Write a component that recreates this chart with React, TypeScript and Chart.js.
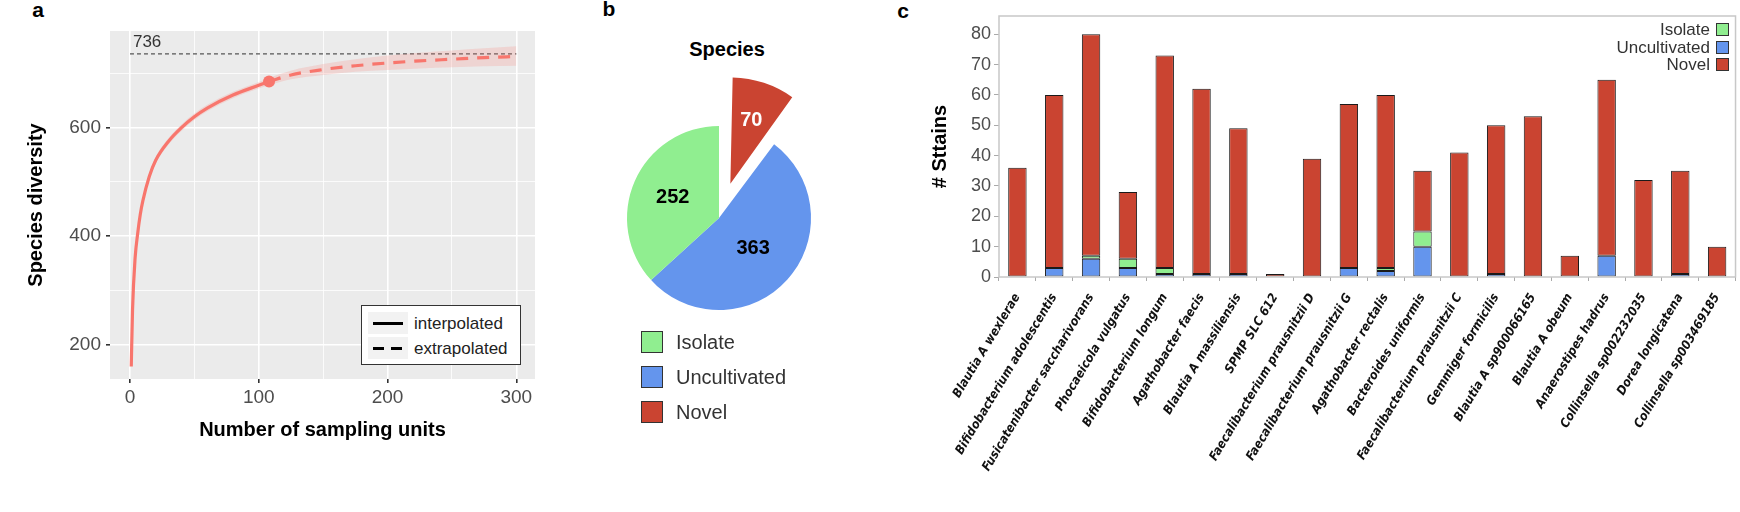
import React, { useEffect, useRef } from "react";
import { Chart, registerables } from "chart.js";
Chart.register(...registerables);

const FONT = "'Liberation Sans', Arial, Helvetica, sans-serif";
const COND = "'DejaVu Sans Condensed', 'Liberation Sans Narrow', 'DejaVu Sans', sans-serif";

// ---------- Panel a: rarefaction curve ----------
const interpX = [1, 2, 4, 6, 8, 10, 15, 20, 30, 40, 50, 60, 80, 100, 108];
const interpY = [160, 265, 360, 405, 440, 465, 510, 540, 575, 600, 620, 636, 660, 678, 685];
const extrapX = [108, 125, 150, 175, 200, 225, 250, 275, 300];
const extrapY = [685, 697, 707, 714, 719, 723, 726, 729, 731];
const ribbonX = [1, 2, 4, 6, 8, 10, 15, 20, 30, 40, 50, 60, 80, 100, 108, 125, 150, 175, 200, 225, 250, 275, 300];
const ribbonHigh = [165, 271, 366, 411, 446, 471, 516, 546, 581, 606, 626, 642, 666, 684, 692, 705, 717, 726, 733, 738, 742, 746, 750];
const ribbonLow = [155, 259, 354, 399, 434, 459, 504, 534, 569, 594, 614, 630, 654, 672, 678, 689, 697, 703, 706, 709, 711, 713, 714];
const sampleX = [108];
const sampleY = [685];
const asymptoteX = [0, 300];
const asymptoteY = [736, 736];
const xTicksA = [0, 50, 100, 150, 200, 250, 300];
const yTicksA = [200, 300, 400, 500, 600, 700];

// ---------- Panel b: pie ----------
const pieLabels = ["Novel", "Uncultivated", "Isolate"];
const pieValues = [70, 363, 252];
const pieLegend = ["Isolate", "Uncultivated", "Novel"];

// ---------- Panel c: stacked bars ----------
const species = [
  "Blautia A wexlerae",
  "Bifidobacterium adolescentis",
  "Fusicatenibacter saccharivorans",
  "Phocaeicola vulgatus",
  "Bifidobacterium longum",
  "Agathobacter faecis",
  "Blautia A massiliensis",
  "SPMP SLC 612",
  "Faecalibacterium prausnitzii D",
  "Faecalibacterium prausnitzii G",
  "Agathobacter rectalis",
  "Bacteroides uniformis",
  "Faecalibacterium prausnitzii C",
  "Gemmiger formicilis",
  "Blautia A sp900066165",
  "Blautia A obeum",
  "Anaerostipes hadrus",
  "Collinsella sp002232035",
  "Dorea longicatena",
  "Collinsella sp003469185",
];
const uncultivated = [0, 3, 6, 3, 1, 1, 1, 0, 0, 3, 2, 10, 0, 1, 0, 0, 7, 0, 1, 0];
const isolate = [0, 0, 1, 3, 2, 0, 0, 0, 0, 0, 1, 5, 0, 0, 0, 0, 0, 0, 0, 0];
const novel = [36, 57, 73, 22, 70, 61, 48, 1, 39, 54, 57, 20, 41, 49, 53, 7, 58, 32, 34, 10];
const yTicksC = [0, 10, 20, 30, 40, 50, 60, 70, 80];
const barLegend = ["Isolate", "Uncultivated", "Novel"];

const COLORS: Record<string, string> = {
  Isolate: "#90EE90",
  Uncultivated: "#6495ED",
  Novel: "#CA4431",
};
const CURVE = "#F8766D";

const pts = (xs: number[], ys: number[]) => xs.map((x, i) => ({ x, y: ys[i] }));
const nz = (a: number[]) => a.map((v) => (v === 0 ? null : v));

function ChartCanvas(props: { make: () => any; left: number; top: number; width: number; height: number }) {
  const ref = useRef<HTMLCanvasElement>(null);
  useEffect(() => {
    const chart = new Chart(ref.current as HTMLCanvasElement, props.make());
    return () => chart.destroy();
  }, []);
  return (
    <canvas
      ref={ref}
      width={props.width}
      height={props.height}
      style={{ position: "absolute", left: props.left, top: props.top, width: props.width, height: props.height }}
    />
  );
}

function Txt(props: { x: number; y: number; size: number; bold?: boolean; color?: string; align?: "center" | "left" | "right"; children: any }) {
  const align = props.align || "center";
  const tx = align === "center" ? "-50%" : align === "right" ? "-100%" : "0";
  return (
    <div
      style={{
        position: "absolute",
        left: props.x,
        top: props.y,
        transform: `translate(${tx}, -50%)`,
        fontFamily: FONT,
        fontSize: props.size,
        fontWeight: props.bold ? "bold" : "normal",
        color: props.color || "#000",
        lineHeight: 1,
        whiteSpace: "nowrap",
      }}
    >
      {props.children}
    </div>
  );
}

const bgPlugin = {
  id: "panelBg",
  beforeDraw(chart: any) {
    const { ctx, chartArea: a } = chart;
    ctx.save();
    ctx.fillStyle = "#EBEBEB";
    ctx.fillRect(a.left, a.top, a.right - a.left, a.bottom - a.top);
    ctx.restore();
  },
};

const asymLabelPlugin = {
  id: "asymLabel",
  afterDatasetsDraw(chart: any) {
    const { ctx, scales } = chart;
    ctx.save();
    ctx.fillStyle = "#333";
    ctx.font = `17px ${FONT}`;
    ctx.textAlign = "left";
    ctx.textBaseline = "bottom";
    ctx.fillText(String(asymptoteY[0]), scales.x.getPixelForValue(asymptoteX[0]) + 3, scales.y.getPixelForValue(asymptoteY[0]) - 3);
    ctx.restore();
  },
};

function makeCurve() {
  return {
    type: "line",
    data: {
      datasets: [
        { data: pts(ribbonX, ribbonLow), borderWidth: 0, pointRadius: 0, fill: false, cubicInterpolationMode: "monotone" },
        {
          data: pts(ribbonX, ribbonHigh),
          borderWidth: 0,
          pointRadius: 0,
          fill: "-1",
          backgroundColor: "rgba(248,118,109,0.2)",
          cubicInterpolationMode: "monotone",
        },
        { data: pts(asymptoteX, asymptoteY), borderColor: "#555", borderWidth: 1.3, borderDash: [4, 3], pointRadius: 0 },
        { data: pts(interpX, interpY), borderColor: CURVE, borderWidth: 3.2, pointRadius: 0, cubicInterpolationMode: "monotone" },
        {
          data: pts(extrapX, extrapY),
          borderColor: CURVE,
          borderWidth: 3.2,
          borderDash: [12, 9],
          pointRadius: 0,
          cubicInterpolationMode: "monotone",
        },
        { data: pts(sampleX, sampleY), pointRadius: 6, pointBackgroundColor: CURVE, pointBorderWidth: 0, showLine: false },
      ],
    },
    options: {
      responsive: false,
      animation: false,
      layout: { padding: { top: 31, right: 25, left: 0, bottom: 0 } },
      plugins: { legend: { display: false }, tooltip: { enabled: false } },
      scales: {
        x: {
          type: "linear",
          min: -15.5,
          max: 314.5,
          afterBuildTicks: (s: any) => {
            s.ticks = xTicksA.map((v) => ({ value: v }));
          },
          afterFit: (s: any) => {
            s.height = 133;
          },
          grid: {
            color: "#FFFFFF",
            lineWidth: (c: any) => (c.tick && c.tick.value % 100 === 0 ? 1.6 : 0.8),
            tickColor: (c: any) => (c.tick && c.tick.value % 100 === 0 ? "#333" : "rgba(0,0,0,0)"),
            tickLength: 4,
          },
          border: { display: false },
          ticks: {
            callback: (v: any) => (v % 100 === 0 ? String(v) : ""),
            color: "#4D4D4D",
            font: { family: FONT, size: 19 },
            padding: 3,
            maxRotation: 0,
            autoSkip: false,
          },
          title: {
            display: true,
            text: "Number of sampling units",
            color: "#000",
            font: { family: FONT, size: 20, weight: "bold" },
            padding: { top: 0, bottom: 70 },
          },
        },
        y: {
          type: "linear",
          min: 137,
          max: 778,
          afterBuildTicks: (s: any) => {
            s.ticks = yTicksA.map((v) => ({ value: v }));
          },
          afterFit: (s: any) => {
            s.width = 110;
          },
          grid: {
            color: "#FFFFFF",
            lineWidth: (c: any) => (c.tick && c.tick.value % 200 === 0 ? 1.6 : 0.8),
            tickColor: (c: any) => (c.tick && c.tick.value % 200 === 0 ? "#333" : "rgba(0,0,0,0)"),
            tickLength: 4,
          },
          border: { display: false },
          ticks: {
            callback: (v: any) => (v % 200 === 0 ? String(v) : ""),
            color: "#4D4D4D",
            font: { family: FONT, size: 19 },
            padding: 5,
          },
          title: {
            display: true,
            text: "Species diversity",
            color: "#000",
            font: { family: FONT, size: 20, weight: "bold" },
            padding: { top: 24, bottom: 0 },
          },
        },
      },
    },
    plugins: [bgPlugin, asymLabelPlugin],
  };
}

// Chart.js moves an arc by offset / 4 pixels
const NOVEL_OFFSET = 144;
const LABEL_FRAC = [0.72, 0.5, 0.55];
const pieLabelPlugin = {
  id: "pieLabels",
  afterDatasetsDraw(chart: any) {
    const { ctx } = chart;
    const meta = chart.getDatasetMeta(0);
    const offsets = chart.data.datasets[0].offset;
    ctx.save();
    ctx.font = `bold 20px ${FONT}`;
    ctx.textAlign = "center";
    ctx.textBaseline = "middle";
    meta.data.forEach((arc: any, i: number) => {
      const mid = (arc.startAngle + arc.endAngle) / 2;
      const r = (offsets[i] || 0) / 4 + arc.outerRadius * LABEL_FRAC[i];
      ctx.fillStyle = pieLabels[i] === "Novel" ? "#FFFFFF" : "#000000";
      ctx.fillText(String(pieValues[i]), arc.x + Math.cos(mid) * r, arc.y + Math.sin(mid) * r);
    });
    ctx.restore();
  },
};

function makePie() {
  return {
    type: "pie",
    data: {
      labels: pieLabels,
      datasets: [
        {
          data: pieValues,
          backgroundColor: pieLabels.map((l) => COLORS[l]),
          borderWidth: 0,
          offset: pieLabels.map((l) => (l === "Novel" ? NOVEL_OFFSET : 0)),
          radius: 92,
        },
      ],
    },
    options: {
      responsive: false,
      animation: false,
      radius: 92,
      layout: { padding: { top: 30, bottom: 106, left: 0, right: 0 } },
      plugins: { legend: { display: false }, tooltip: { enabled: false } },
    },
    plugins: [pieLabelPlugin],
  };
}

const frameC = {
  id: "frameC",
  afterDraw(chart: any) {
    const { ctx, chartArea: a } = chart;
    ctx.save();
    ctx.strokeStyle = "#C8C8C8";
    ctx.lineWidth = 1.5;
    ctx.strokeRect(a.left, a.top, a.right - a.left, a.bottom - a.top);
    ctx.restore();
  },
};

function makeBars() {
  const ds = (name: string, vals: number[]) => ({
    label: name,
    data: nz(vals),
    backgroundColor: COLORS[name],
    borderColor: "#1A1A1A",
    borderWidth: 1,
    borderSkipped: false,
    barPercentage: 0.5,
    categoryPercentage: 1.0,
  });
  return {
    type: "bar",
    data: {
      labels: species,
      datasets: [ds("Uncultivated", uncultivated), ds("Isolate", isolate), ds("Novel", novel)],
    },
    options: {
      responsive: false,
      animation: false,
      layout: { padding: { top: 16, right: 1, left: 0, bottom: 0 } },
      plugins: { legend: { display: false }, tooltip: { enabled: false } },
      scales: {
        x: {
          stacked: true,
          afterFit: (s: any) => {
            s.height = 235;
          },
          grid: { drawOnChartArea: false, tickLength: 4, tickColor: "#AAAAAA" },
          border: { display: false },
          ticks: {
            minRotation: 59,
            maxRotation: 59,
            autoSkip: false,
            color: "#111",
            padding: 10,
            font: { family: COND, size: 12.5, style: "italic", weight: "bold" },
          },
        },
        y: {
          stacked: true,
          min: 0,
          max: 86,
          afterBuildTicks: (s: any) => {
            s.ticks = yTicksC.map((v) => ({ value: v }));
          },
          afterFit: (s: any) => {
            s.width = 119;
          },
          grid: { drawOnChartArea: false, tickLength: 5, tickColor: "#AAAAAA" },
          border: { display: false },
          ticks: { color: "#4D4D4D", font: { family: FONT, size: 18 }, padding: 3 },
          title: {
            display: true,
            text: "# Sttains",
            color: "#000",
            font: { family: FONT, size: 20, weight: "bold" },
            padding: { top: 48, bottom: 0 },
          },
        },
      },
    },
    plugins: [frameC],
  };
}

function LegendKey(props: { dashed?: boolean }) {
  return (
    <div style={{ position: "relative", width: 40, height: 22, background: "#F2F2F2" }}>
      {props.dashed ? (
        <>
          <div style={{ position: "absolute", left: 5, top: 9.5, width: 11, height: 3, background: "#000" }} />
          <div style={{ position: "absolute", left: 23, top: 9.5, width: 11, height: 3, background: "#000" }} />
        </>
      ) : (
        <div style={{ position: "absolute", left: 5, top: 9.5, width: 30, height: 3, background: "#000" }} />
      )}
    </div>
  );
}

export default function App() {
  return (
    <div
      style={{
        position: "absolute",
        left: 0,
        top: 0,
        width: 1740,
        height: 512,
        overflow: "hidden",
        background: "#FFFFFF",
        fontFamily: FONT,
      }}
    >
      {/* panel letters */}
      <Txt x={38} y={9} size={21} bold>a</Txt>
      <Txt x={609} y={8} size={21} bold>b</Txt>
      <Txt x={903} y={10} size={21} bold>c</Txt>

      {/* Panel a */}
      <ChartCanvas make={makeCurve} left={0} top={0} width={560} height={512} />
      <div
        style={{
          position: "absolute",
          left: 361,
          top: 305,
          width: 158,
          height: 58,
          border: "1.5px solid #333",
          background: "#FFFFFF",
        }}
      >
        {["interpolated", "extrapolated"].map((t, i) => (
          <div key={t} style={{ position: "absolute", left: 6, top: 6 + i * 25, display: "flex", alignItems: "center" }}>
            <LegendKey dashed={i === 1} />
            <span style={{ marginLeft: 6, fontSize: 17, color: "#222", lineHeight: 1 }}>{t}</span>
          </div>
        ))}
      </div>

      {/* Panel b */}
      <Txt x={727} y={49} size={20} bold>Species</Txt>
      <ChartCanvas make={makePie} left={559} top={0} width={320} height={512} />
      {pieLegend.map((l, i) => (
        <React.Fragment key={l}>
          <div
            style={{
              position: "absolute",
              left: 641,
              top: 331 + i * 35,
              width: 20,
              height: 20,
              background: COLORS[l],
              border: "1.5px solid #333",
            }}
          />
          <Txt x={676} y={342 + i * 35} size={20} color="#333" align="left">
            {l}
          </Txt>
        </React.Fragment>
      ))}

      {/* Panel c */}
      <ChartCanvas make={makeBars} left={880} top={0} width={860} height={512} />
      {barLegend.map((l, i) => (
        <React.Fragment key={l}>
          <Txt x={1710} y={29 + i * 17.5} size={17} color="#333" align="right">
            {l}
          </Txt>
          <div
            style={{
              position: "absolute",
              left: 1716,
              top: 23 + i * 17.5,
              width: 11,
              height: 11,
              background: COLORS[l],
              border: "1px solid #333",
            }}
          />
        </React.Fragment>
      ))}
    </div>
  );
}
